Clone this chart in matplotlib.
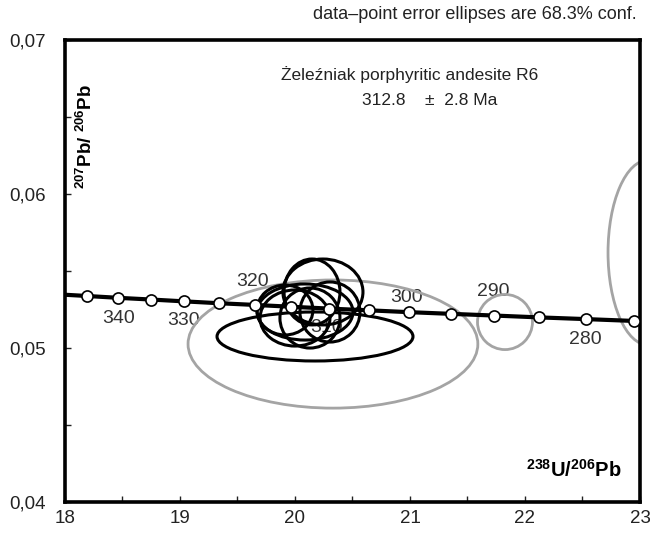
import matplotlib
matplotlib.use("Agg")
import matplotlib.pyplot as plt
from matplotlib.patches import Ellipse

plt.rcParams['font.family'] = ['Liberation Sans', 'DejaVu Sans']
plt.rcParams['mathtext.fontset'] = 'custom'
plt.rcParams['mathtext.rm'] = 'Liberation Sans:bold'
plt.rcParams['mathtext.bf'] = 'Liberation Sans:bold'

# concordia curve (238U/206Pb, 207Pb/206Pb), marker every 5 Ma
conc_age = [345, 340, 335, 330, 325, 320, 315, 310, 305, 300, 295, 290, 285, 280, 275]
conc_x = [18.190, 18.464, 18.747, 19.039, 19.339, 19.649, 19.969, 20.299,
          20.640, 20.992, 21.356, 21.733, 22.123, 22.527, 22.945]
conc_y = [0.05338, 0.05326, 0.05315, 0.05303, 0.05291, 0.05280, 0.05268, 0.05256,
          0.05245, 0.05233, 0.05222, 0.05211, 0.05199, 0.05188, 0.05176]
line_x = [18.0] + conc_x + [23.0]
line_y = [0.05346] + conc_y + [0.05175]

# age labels on the curve
lab_text = ['340', '330', '320', '310', '300', '290', '280']
lab_x = [18.47, 19.03, 19.635, 20.278, 20.974, 21.722, 22.522]
lab_y = [0.05195, 0.05182, 0.05429, 0.05136, 0.05331, 0.05364, 0.05058]

# accepted analyses (black): centre x, centre y, half width, half height
blk_x = [20.243, 20.148, 20.087, 20.000, 20.130, 20.304, 19.913, 20.174]
blk_y = [0.05364, 0.05364, 0.05234, 0.05195, 0.05195, 0.05234, 0.05247, 0.05075]
blk_rx = [0.348, 0.243, 0.417, 0.304, 0.261, 0.261, 0.243, 0.852]
blk_ry = [0.00214, 0.00214, 0.00182, 0.00182, 0.00195, 0.00195, 0.00162, 0.00159]

# rejected analyses (grey)
gry_x = [20.33, 21.826, 23.07]
gry_y = [0.05026, 0.05169, 0.05620]
gry_rx = [1.26, 0.239, 0.348]
gry_ry = [0.00416, 0.00179, 0.00600]

fig = plt.figure(figsize=(6.5, 5.33), dpi=100)
ax = fig.add_axes([0.1, 0.058, 0.8846, 0.867])

for x, y, rx, ry in zip(gry_x, gry_y, gry_rx, gry_ry):
    ax.add_patch(Ellipse((x, y), 2 * rx, 2 * ry, fill=False, ec='#a4a4a4', lw=2.0, zorder=2))
for x, y, rx, ry in zip(blk_x, blk_y, blk_rx, blk_ry):
    ax.add_patch(Ellipse((x, y), 2 * rx, 2 * ry, fill=False, ec='black', lw=2.2, zorder=3))

ax.plot(line_x, line_y, color='black', lw=3.0, zorder=4)
ax.plot(conc_x, conc_y, 'o', ms=8, mfc='white', mec='black', mew=1.2, zorder=5)

for t, x, y in zip(lab_text, lab_x, lab_y):
    ax.text(x, y, t, ha='center', va='center', fontsize=14, color='#333333', zorder=1)

ax.set_xlim(18, 23)
ax.set_ylim(0.04, 0.07)
ax.set_xticks([18, 19, 20, 21, 22, 23])
ax.set_xticks([18.5, 19.5, 20.5, 21.5, 22.5], minor=True)
ax.set_yticks([0.04, 0.05, 0.06, 0.07])
ax.set_yticks([0.045, 0.055, 0.065], minor=True)
ax.set_yticklabels(['0,04', '0,05', '0,06', '0,07'])
ax.tick_params(which='both', direction='in', length=4, width=1, labelsize=13.5, colors='#222222')
ax.tick_params(axis='x', pad=6)
ax.tick_params(axis='y', pad=14)
for s in ax.spines.values():
    s.set_linewidth(2.6)

ax.text(0.6, 0.926, 'Żeleźniak porphyritic andesite R6', transform=ax.transAxes,
        ha='center', va='center', fontsize=12.5, color='#222222')
ax.text(0.635, 0.870, '312.8    ±  2.8 Ma', transform=ax.transAxes,
        ha='center', va='center', fontsize=12.5, color='#222222')
fig.text(0.98, 0.972, 'data\u2013point error ellipses are 68.3% conf.',
         ha='right', va='center', fontsize=13, color='#222222')

ax.text(0.035, 0.79, r'$^{207}$Pb/ $^{206}$Pb', transform=ax.transAxes, rotation=90,
        ha='center', va='center', fontsize=13.5, fontweight='bold')
ax.text(0.885, 0.07, r'$^{238}$U/$^{206}$Pb', transform=ax.transAxes,
        ha='center', va='center', fontsize=14.5, fontweight='bold')

fig.savefig('out.png', dpi=100)
